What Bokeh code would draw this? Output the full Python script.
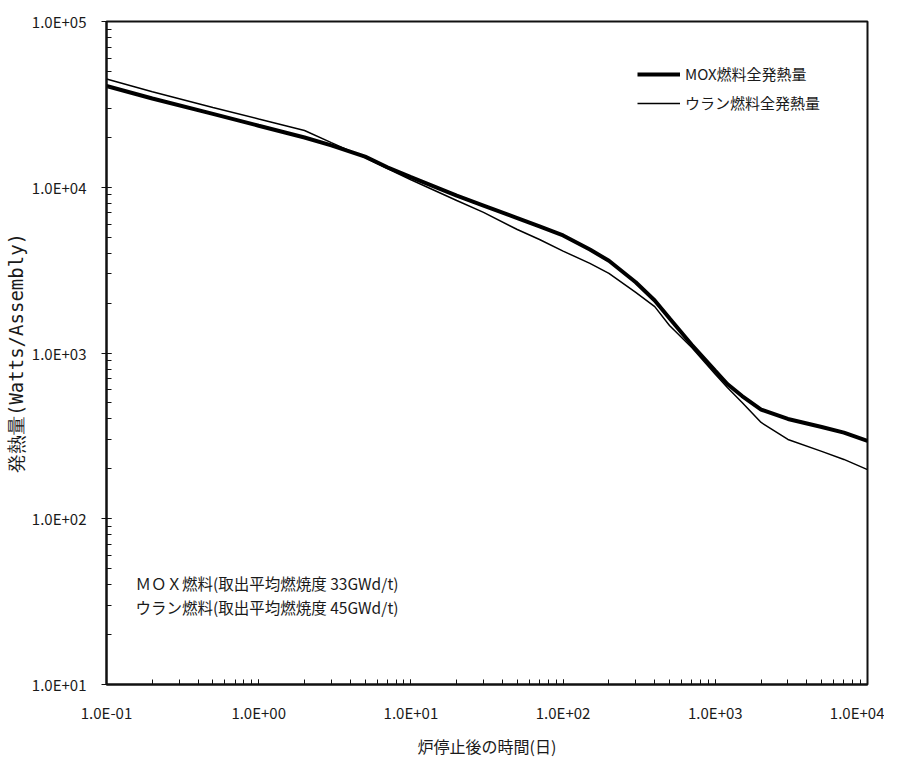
from bokeh.plotting import figure
from bokeh.models import CustomJSTickFormatter, LogTicker, Legend, LegendItem, Label
from bokeh.embed import file_html
from bokeh.resources import INLINE

# Time after reactor shutdown (days)
days = [0.1, 0.2, 0.5, 1, 2, 3, 5, 7, 10, 20, 30, 50, 70, 100, 150, 200,
        300, 400, 500, 700, 1000, 1200, 1500, 2000, 3000, 5000, 7000, 10000]
# Total decay heat (Watts/Assembly)
mox_heat = [40800, 34300, 27700, 23500, 19950, 17900, 15300, 13200, 11500,
            8900, 7760, 6520, 5800, 5120, 4210, 3600, 2670, 2075, 1620, 1121,
            780, 650, 550, 455, 400, 358, 331, 295]
uranium_heat = [45000, 37700, 30300, 25800, 22000, 18600, 15100, 12970, 11100,
                8320, 7050, 5560, 4840, 4120, 3470, 3020, 2320, 1905, 1466,
                1079, 745, 619, 503, 381, 301, 255, 228, 198]

series_names = ["MOX燃料全発熱量", "ウラン燃料全発熱量"]
note_lines = ["ＭＯＸ燃料(取出平均燃焼度 33GWd/t)", "ウラン燃料(取出平均燃焼度 45GWd/t)"]
x_title = "炉停止後の時間(日)"
y_title = "発熱量(Watts/Assembly)"

FONT = "Noto Sans CJK JP"
TXT = "#1a1a1a"

p = figure(width=884, height=761, x_axis_type="log", y_axis_type="log",
           x_range=(0.1, 1e4), y_range=(10, 1e5),
           output_backend="svg", toolbar_location=None,
           min_border_left=106, min_border_right=17,
           min_border_top=21, min_border_bottom=77)

p.background_fill_color = "white"
p.border_fill_color = "white"
p.outline_line_color = "#111111"
p.outline_line_width = 2
p.xgrid.visible = False
p.ygrid.visible = False

fmt = CustomJSTickFormatter(code="""
    var s = tick.toExponential(1).toUpperCase();
    return s.replace(/E([+-])(\\d)$/, 'E$10$2');
""")

for ax in (p.xaxis[0], p.yaxis[0]):
    ax.ticker = LogTicker(num_minor_ticks=10)
    ax.formatter = fmt
    ax.axis_line_color = "#111111"
    ax.axis_line_width = 2
    ax.major_tick_line_color = "#111111"
    ax.minor_tick_line_color = "#111111"
    ax.minor_tick_in = 5
    ax.minor_tick_out = 0
    ax.major_label_text_font = FONT
    ax.major_label_text_font_size = "15px"
    ax.major_label_text_color = TXT
    ax.axis_label_text_font = FONT
    ax.axis_label_text_font_size = "16px"
    ax.axis_label_text_font_style = "normal"
    ax.axis_label_text_color = TXT

p.xaxis.major_tick_in = 0
p.xaxis.major_tick_out = 0
p.xaxis.major_label_standoff = 17
p.xaxis.axis_label = x_title
p.xaxis.axis_label_standoff = 8

p.yaxis.major_tick_in = 0
p.yaxis.major_tick_out = 5
p.yaxis.major_label_standoff = 15
p.yaxis.axis_label = y_title
p.yaxis.axis_label_text_font = "DejaVu Sans Mono"
p.yaxis.axis_label_text_font_size = "19px"
p.yaxis.axis_label_standoff = 2

r_mox = p.line(days, mox_heat, line_color="black", line_width=4)
r_u = p.line(days, uranium_heat, line_color="black", line_width=1.5)

legend = Legend(items=[LegendItem(label=series_names[0], renderers=[r_mox]),
                       LegendItem(label=series_names[1], renderers=[r_u])],
                location=(531, 571), orientation="vertical",
                glyph_width=43, glyph_height=20, label_height=20,
                label_standoff=5, spacing=8, padding=10, margin=0,
                border_line_color=None, background_fill_alpha=0,
                label_text_font=FONT, label_text_font_size="15px",
                label_text_color=TXT)
p.add_layout(legend)

note_y = [41.2, 29.2]
for txt, yv in zip(note_lines, note_y):
    p.add_layout(Label(x=0.155, y=yv, text=txt, text_font=FONT,
                       text_font_size="15.5px", text_color=TXT,
                       text_baseline="middle", text_align="left"))

open("out.html", "w").write(file_html(p, INLINE))
